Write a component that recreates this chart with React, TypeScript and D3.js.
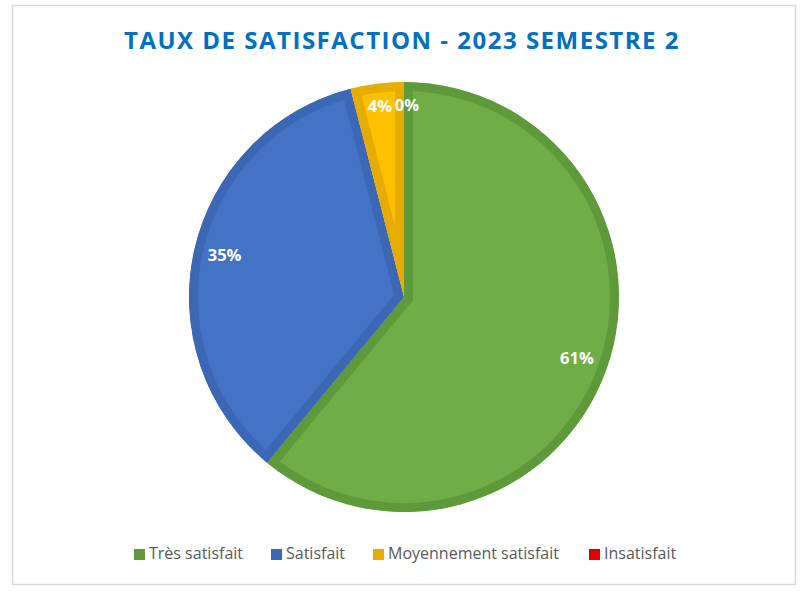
import React from "react";
import * as d3 from "d3";

const categories = ["Très satisfait", "Satisfait", "Moyennement satisfait", "Insatisfait"];
const values = [61, 35, 4, 0];
const labels = ["61%", "35%", "4%", "0%"];
const fills = ["#70AD47", "#4472C4", "#FFC000", "#FF0000"];
const borders = ["#5F9A3A", "#3C67B4", "#E6AC00", "#E00000"];
const legendColors = ["#5F9A3A", "#3C67B4", "#E6AC00", "#E00000"];
const title = "TAUX DE SATISFACTION - 2023 SEMESTRE 2";

const W = 811, H = 592;
const cx = 404, cy = 297, R = 215;
const legendX = [134, 271, 373, 589];

export default function App() {
  const pie = d3.pie<number>().value((d) => d).sort(null);
  const arcs = pie(values);
  const arcGen = d3.arc<d3.PieArcDatum<number>>().innerRadius(0).outerRadius(R);
  const labelArc = d3.arc<d3.PieArcDatum<number>>().innerRadius(R * 0.855).outerRadius(R * 0.855);
  return (
    <svg width={W} height={H} style={{ position: "absolute", left: 0, top: 0 }}>
      <rect x={12.5} y={5.5} width={783} height={579} fill="#fff" stroke="#D9D9D9" strokeWidth={1.5} />
      <text x={402} y={49} textAnchor="middle" fill="#0070C0" fontFamily="'Open Sans', sans-serif" fontWeight="bold" fontSize={24} letterSpacing={1.5}>
        {title}
      </text>
      <defs>
        {arcs.map((a, i) => (
          <clipPath id={`clip${i}`} key={i}>
            <path d={arcGen(a) || ""} transform={`translate(${cx},${cy})`} />
          </clipPath>
        ))}
      </defs>
      <g transform={`translate(${cx},${cy})`}>
        {arcs.map((a, i) =>
          a.endAngle - a.startAngle > 0 ? (
            <g key={i} clipPath={`url(#clip${i})`} transform={`translate(${-cx},${-cy})`}>
              <path d={arcGen(a) || ""} transform={`translate(${cx},${cy})`} fill={fills[i]} stroke={borders[i]} strokeWidth={18} strokeLinejoin="miter" />
            </g>
          ) : null
        )}
        {arcs.map((a, i) => {
          const [x, y] = labelArc.centroid(a);
          const dx = i === 2 ? -1 : i === 3 ? 3 : 0;
          return (
            <text key={i} x={x + dx} y={i >= 2 ? y - 7 : y} textAnchor="middle" dominantBaseline="middle" fill="#fff" fontFamily="'Open Sans', sans-serif" fontWeight="bold" fontSize={16.5}>
              {labels[i]}
            </text>
          );
        })}
      </g>
      <g fontFamily="'Open Sans', sans-serif" fontSize={16} fill="#595959">
        {categories.map((c, i) => (
          <g key={i}>
            <rect x={legendX[i]} y={549} width={11} height={11} fill={legendColors[i]} />
            <text x={legendX[i] + 15} y={555} dominantBaseline="middle">{c}</text>
          </g>
        ))}
      </g>
    </svg>
  );
}
